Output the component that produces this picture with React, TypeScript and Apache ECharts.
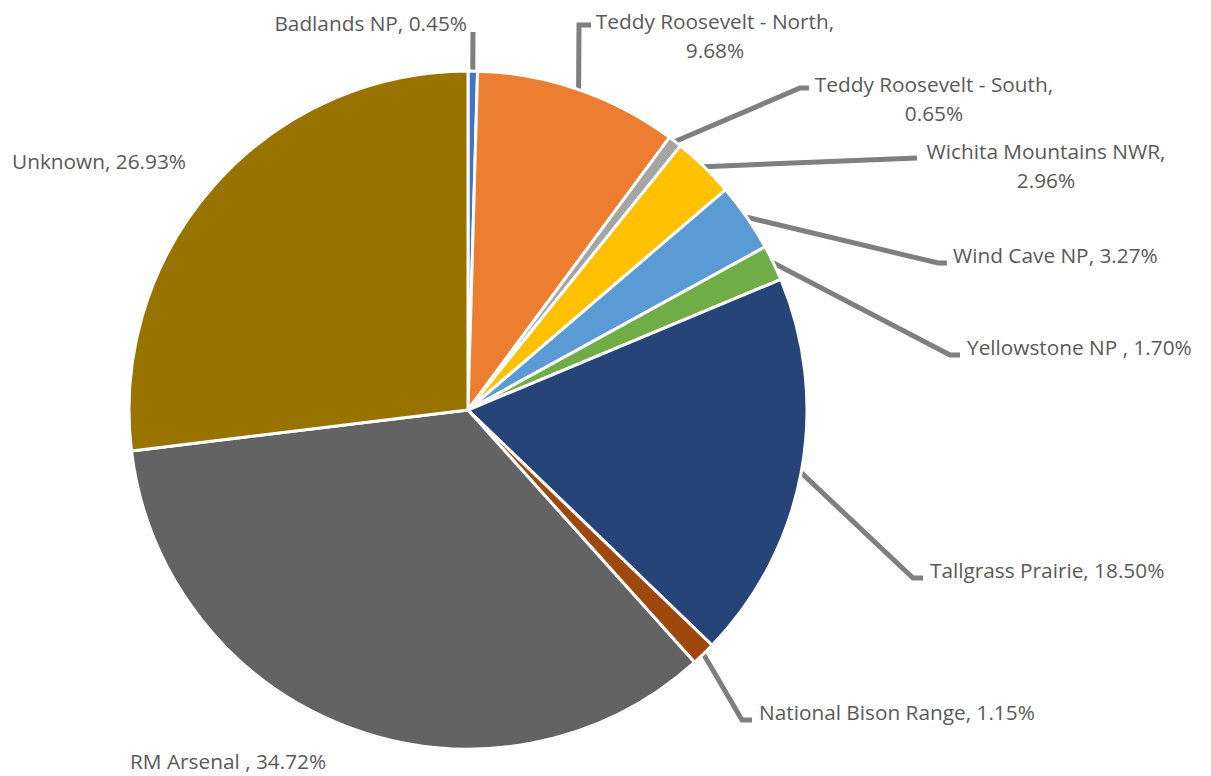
import React, { useEffect, useRef } from "react";
import * as echarts from "echarts";

const categories = [
  "Badlands NP",
  "Teddy Roosevelt - North",
  "Teddy Roosevelt - South",
  "Wichita Mountains NWR",
  "Wind Cave NP",
  "Yellowstone NP ",
  "Tallgrass Prairie",
  "National Bison Range",
  "RM Arsenal ",
  "Unknown",
];
const shares = [0.45, 9.68, 0.65, 2.96, 3.27, 1.7, 18.5, 1.15, 34.72, 26.93];
const colors = [
  "#4472C4",
  "#ED7D31",
  "#A5A5A5",
  "#FFC000",
  "#5B9BD5",
  "#70AD47",
  "#264478",
  "#9E480E",
  "#636363",
  "#997300",
];
const wrapped = [false, true, true, true, false, false, false, false, false, false];

// Label placement (layout only): anchor point, alignment, leader-line bend points
const labelAnchors: { x: number; y: number; align: string; line: number[][] | null }[] = [
  { x: 467, y: 23, align: "right", line: [[473, 32]] },
  { x: 715, y: 35, align: "center", line: [[579, 25], [591, 25]] },
  { x: 934, y: 98, align: "center", line: [[800, 88], [809, 88]] },
  { x: 1046, y: 165, align: "center", line: [[917, 158]] },
  { x: 953, y: 255, align: "left", line: [[938, 263], [947, 263]] },
  { x: 967, y: 347, align: "left", line: [[950, 355], [960, 355]] },
  { x: 930, y: 570, align: "left", line: [[913, 578], [923, 578]] },
  { x: 759, y: 712, align: "left", line: [[742, 720], [752, 720]] },
  { x: 130, y: 761, align: "left", line: null },
  { x: 12, y: 161, align: "left", line: null },
];

export default function App() {
  const ref = useRef<HTMLDivElement>(null);
  useEffect(() => {
    if (!ref.current) return;
    const chart = echarts.init(ref.current, undefined, { renderer: "svg" });
    chart.setOption({
      animation: false,
      backgroundColor: "#ffffff",
      series: [
        {
          type: "pie",
          center: [468, 410],
          radius: 339,
          startAngle: 90,
          clockwise: true,
          avoidLabelOverlap: false,
          silent: true,
          itemStyle: { borderColor: "#ffffff", borderWidth: 3 },
          label: {
            show: true,
            position: "outside",
            fontFamily: "Open Sans",
            fontSize: 20.8,
            color: "#595959",
            lineHeight: 29,
            formatter: (p: any) => {
              const v = shares[p.dataIndex].toFixed(2) + "%";
              return wrapped[p.dataIndex] ? `${p.name},\n${v}` : `${p.name}, ${v}`;
            },
          },
          labelLine: {
            show: true,
            length: 20,
            length2: 10,
            smooth: false,
            lineStyle: { color: "#7F7F7F", width: 5 },
          },
          labelLayout: (params: any) => {
            const a = labelAnchors[params.dataIndex];
            const res: any = {
              x: a.x,
              y: a.y,
              align: a.align,
              verticalAlign: "middle",
            };
            if (a.line && params.labelLinePoints && params.labelLinePoints[0]) {
              res.labelLinePoints = [params.labelLinePoints[0], ...a.line];
            }
            return res;
          },
          data: categories.map((name, i) => ({
            name,
            value: shares[i],
            itemStyle: { color: colors[i] },
            labelLine: { show: labelAnchors[i].line !== null },
          })),
        },
      ],
    });
    return () => chart.dispose();
  }, []);
  return (
    <div
      ref={ref}
      style={{ position: "fixed", left: 0, top: 0, width: 1211, height: 776 }}
    />
  );
}
